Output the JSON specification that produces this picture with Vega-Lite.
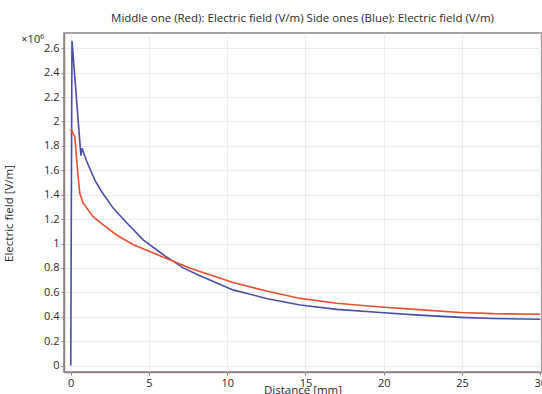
{
  "$schema": "https://vega.github.io/schema/vega-lite/v6.json",
  "width": 477,
  "height": 339,
  "autosize": {"type": "none"},
  "padding": {"left": 64, "top": 33, "right": 1, "bottom": 22},
  "background": "white",
  "title": {
    "text": "Middle one (Red): Electric field (V/m) Side ones (Blue): Electric field (V/m)",
    "font": "Open Sans",
    "fontSize": 11.5,
    "fontWeight": "normal",
    "color": "#2a2a2a",
    "anchor": "middle",
    "offset": 9
  },
  "config": {
    "view": {"stroke": "#8c8282", "strokeWidth": 1.5},
    "axis": {
      "labelFont": "Open Sans",
      "labelFontSize": 11,
      "labelColor": "#2a2a2a",
      "labelOverlap": false,
      "titleFont": "Open Sans",
      "titleFontSize": 11.5,
      "titleFontWeight": "normal",
      "titleColor": "#2a2a2a",
      "domainColor": "#8c8282",
      "domainWidth": 1.5,
      "tickColor": "#8c8282",
      "tickSize": 3,
      "gridColor": "#ececec",
      "gridWidth": 1
    }
  },
  "datasets": {
    "curves": [
      {"series": "Side ones (Blue)", "d": 0, "v": 0},
      {"series": "Side ones (Blue)", "d": 0.08, "v": 2.66},
      {"series": "Side ones (Blue)", "d": 0.65, "v": 1.72},
      {"series": "Side ones (Blue)", "d": 0.72, "v": 1.78},
      {"series": "Side ones (Blue)", "d": 1.0, "v": 1.68},
      {"series": "Side ones (Blue)", "d": 1.54, "v": 1.52},
      {"series": "Side ones (Blue)", "d": 2.0, "v": 1.42},
      {"series": "Side ones (Blue)", "d": 2.71, "v": 1.29},
      {"series": "Side ones (Blue)", "d": 3.5, "v": 1.18},
      {"series": "Side ones (Blue)", "d": 4.63, "v": 1.03},
      {"series": "Side ones (Blue)", "d": 6.0, "v": 0.9},
      {"series": "Side ones (Blue)", "d": 7.19, "v": 0.8},
      {"series": "Side ones (Blue)", "d": 8.26, "v": 0.735},
      {"series": "Side ones (Blue)", "d": 10.37, "v": 0.62},
      {"series": "Side ones (Blue)", "d": 12.5, "v": 0.55},
      {"series": "Side ones (Blue)", "d": 14.66, "v": 0.496},
      {"series": "Side ones (Blue)", "d": 17.0, "v": 0.46},
      {"series": "Side ones (Blue)", "d": 19.8, "v": 0.435},
      {"series": "Side ones (Blue)", "d": 22.0, "v": 0.415},
      {"series": "Side ones (Blue)", "d": 24.9, "v": 0.395},
      {"series": "Side ones (Blue)", "d": 27.0, "v": 0.385},
      {"series": "Side ones (Blue)", "d": 30.0, "v": 0.379},
      {"series": "Middle one (Red)", "d": 0, "v": 1.92},
      {"series": "Middle one (Red)", "d": 0.04, "v": 1.93},
      {"series": "Middle one (Red)", "d": 0.26, "v": 1.875},
      {"series": "Middle one (Red)", "d": 0.47, "v": 1.55},
      {"series": "Middle one (Red)", "d": 0.58, "v": 1.41},
      {"series": "Middle one (Red)", "d": 0.8, "v": 1.33},
      {"series": "Middle one (Red)", "d": 1.43, "v": 1.22},
      {"series": "Middle one (Red)", "d": 2.0, "v": 1.16},
      {"series": "Middle one (Red)", "d": 2.93, "v": 1.07},
      {"series": "Middle one (Red)", "d": 4.0, "v": 0.99},
      {"series": "Middle one (Red)", "d": 5.7, "v": 0.9},
      {"series": "Middle one (Red)", "d": 7.6, "v": 0.8},
      {"series": "Middle one (Red)", "d": 8.26, "v": 0.77},
      {"series": "Middle one (Red)", "d": 10.37, "v": 0.68},
      {"series": "Middle one (Red)", "d": 12.5, "v": 0.61},
      {"series": "Middle one (Red)", "d": 14.66, "v": 0.55},
      {"series": "Middle one (Red)", "d": 17.0, "v": 0.51},
      {"series": "Middle one (Red)", "d": 19.8, "v": 0.48},
      {"series": "Middle one (Red)", "d": 22.0, "v": 0.46},
      {"series": "Middle one (Red)", "d": 24.9, "v": 0.435},
      {"series": "Middle one (Red)", "d": 27.0, "v": 0.425},
      {"series": "Middle one (Red)", "d": 30.0, "v": 0.42}
    ],
    "exponent": [{"label": "×10⁶", "d": -0.43, "v": 2.72}]
  },
  "encoding": {
    "x": {
      "field": "d",
      "type": "quantitative",
      "scale": {"domain": [-0.43, 30.05], "nice": false, "zero": false},
      "axis": {
        "title": "Distance [mm]",
        "values": [0, 5, 10, 15, 20, 25, 30],
        "labelPadding": 2,
        "titleY": 12,
        "titleBaseline": "top",
        "labelFlush": false
      }
    },
    "y": {
      "field": "v",
      "type": "quantitative",
      "scale": {"domain": [-0.053, 2.725], "nice": false, "zero": false},
      "axis": {
        "title": "Electric field [V/m]",
        "values": [0, 0.2, 0.4, 0.6, 0.8, 1, 1.2, 1.4, 1.6, 1.8, 2, 2.2, 2.4, 2.6],
        "format": "~g",
        "labelPadding": 2,
        "titleX": -50,
        "titleY": 180,
        "labelFlush": false
      }
    }
  },
  "layer": [
    {
      "data": {"name": "curves"},
      "mark": {"type": "line", "strokeWidth": 1.6, "clip": true},
      "encoding": {
        "color": {
          "field": "series",
          "type": "nominal",
          "scale": {"domain": ["Middle one (Red)", "Side ones (Blue)"], "range": ["#e8502e", "#4a4ea6"]},
          "legend": null
        },
        "order": {"field": "d", "type": "quantitative"}
      }
    },
    {
      "data": {"name": "exponent"},
      "mark": {"type": "text", "font": "Open Sans", "fontSize": 11, "color": "#2a2a2a", "align": "right", "baseline": "middle", "dx": -20, "dy": 6},
      "encoding": {
        "text": {"field": "label"}
      }
    }
  ]
}
